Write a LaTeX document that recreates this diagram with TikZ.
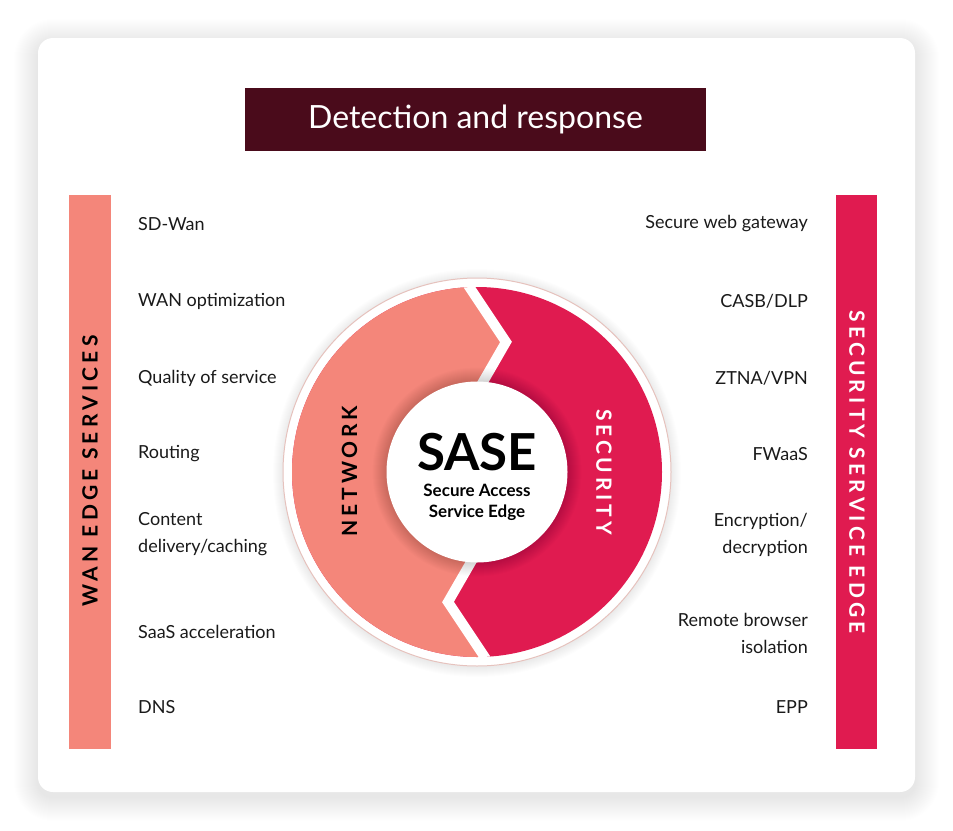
\documentclass[tikz,border=0pt]{standalone}
\usepackage{fontspec}
\setmainfont{Lato}

\definecolor{wansalmon}{HTML}{F4867A}
\definecolor{secred}{HTML}{E01B50}
\definecolor{detmaroon}{HTML}{4A0B1B}
\definecolor{ringline}{HTML}{E6C2BD}
\definecolor{itemtext}{HTML}{1A1A1A}

\tikzset{
  item/.style={font=\fontsize{18}{27}\selectfont, text=itemtext, inner sep=0pt},
  left item/.style={item, anchor=west, align=left},
  right item/.style={item, anchor=east, align=right},
  bar label/.style={font=\fontsize{21}{21}\selectfont\bfseries\addfontfeatures{LetterSpace=20}, inner sep=0pt},
  ring label/.style={font=\fontsize{21}{21}\selectfont\bfseries\addfontfeatures{LetterSpace=18}, inner sep=0pt},
  soft shade/.style={black, opacity=#1},
}

\begin{document}
\begin{tikzpicture}[x=1pt, y=-1pt]
    \useasboundingbox (0,0) rectangle (953,830);

    % draw card with soft shadow
    \foreach \i in {1,...,24}
      \fill[soft shade=0.005, rounded corners=15pt+\i pt] (38-\i,38-\i+5) rectangle (915+\i,792+\i+5);
    \fill[white, rounded corners=15pt] (38,38) rectangle (915,792);

    % draw title
    \node[fill=detmaroon, text=white, minimum width=461pt, minimum height=63pt, inner sep=0pt,
          font=\fontsize{32}{32}\selectfont] (title) at (475.5,119.5) {Detection and response};

    % draw side bars
    \fill[wansalmon] (69,195) rectangle (111,749);
    \fill[secred] (836,195) rectangle (877,749);
    \node[bar label, rotate=90] (wanlabel) at (90,471) {WAN EDGE SERVICES};
    \node[bar label, rotate=-90, text=white] (selabel) at (857,472) {SECURITY SERVICE EDGE};

    % draw items
    \foreach \y/\txt [count=\i] in {224/SD-Wan, 301/WAN optimization, 378/Quality of service, 454/Routing,
        534.5/{Content\\delivery/caching}, 632/SaaS acceleration, 707/DNS}
      \node[left item] (wan-\i) at (138,\y) {\txt};
    \foreach \y/\txt [count=\i] in {224/Secure web gateway, 301/{CASB/DLP}, 378/{ZTNA/VPN}, 454/FWaaS,
        534.5/{Encryption/\\decryption}, 633.5/{Remote browser\\isolation}, 707/EPP}
      \node[right item] (sec-\i) at (808,\y) {\txt};

    % draw circle
    \begin{scope}[shift={(477,472)}]
      \foreach \i in {1,...,10}
        \fill[soft shade=0.008] (0,1) circle (194pt+\i pt);
      \draw[ringline, line width=1pt, fill=white] (0,0) circle (194pt);
      \fill[secred] (0,0) circle (185pt);
      \begin{scope}
        \clip (0,0) circle (185pt);
        \fill[wansalmon] (0,0) -- (-4.75,-71.5) -- (29,-130) -- (-13,-193) -- (-200,-193)
          -- (-200,193) -- (13,193) -- (-29,130) -- (4.75,71.5) -- cycle;
        % white gaps
        \draw[white, line width=10pt, line join=miter] (-4.75,-71.5) -- (29,-130) -- (-13,-193);
        \draw[white, line width=10pt, line join=miter] (4.75,71.5) -- (-29,130) -- (13,193);
        % shade round the core
        \foreach \i in {1,...,14}
          \fill[soft shade=0.012] (0,0) circle (90.5pt+\i pt);
      \end{scope}
      \node[circle, fill=white, minimum size=181pt, inner sep=0pt] (core) at (0,0) {};
      \node[font=\fontsize{51}{51}\selectfont\bfseries, inner sep=0pt] (sase) at (0,-19.5) {SASE};
      \node[font=\fontsize{17}{21}\selectfont\bfseries, align=center, inner sep=0pt] (sasefull) at (0,30.5) {Secure Access\\Service Edge};
      \node[ring label, rotate=90] (network) at (-127.5,-1) {NETWORK};
      \node[ring label, rotate=-90, text=white] (security) at (127,0) {SECURITY};
    \end{scope}

\end{tikzpicture}
\end{document}
